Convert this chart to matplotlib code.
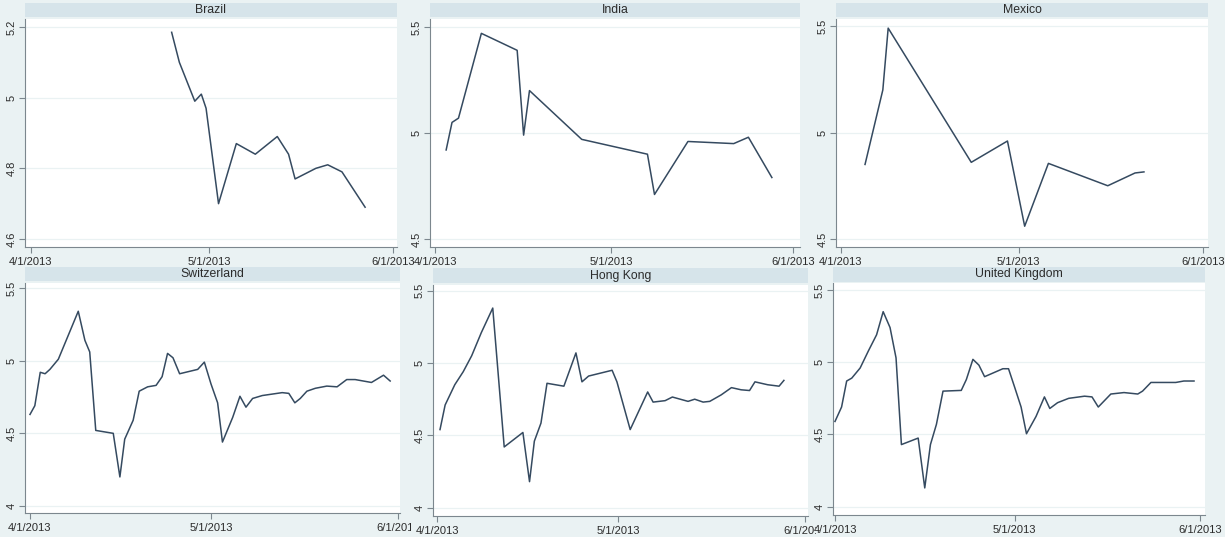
import numpy as np
import matplotlib
matplotlib.use("Agg")
import matplotlib.pyplot as plt
from matplotlib.patches import Rectangle
from matplotlib.transforms import Bbox, TransformedBbox

plt.rcParams["font.family"] = ["Liberation Sans", "DejaVu Sans"]

# ---- data: days since 1 Apr 2013 and yield values ----
brazil_day = [23.7, 25.0, 27.6, 28.7, 29.5, 31.6, 34.6, 37.8, 41.5, 43.4, 44.5, 48.0, 50.0, 52.4, 56.3]
brazil_val = [5.185, 5.10, 4.99, 5.01, 4.97, 4.70, 4.87, 4.84, 4.89, 4.84, 4.77, 4.80, 4.81, 4.79, 4.69]

india_day = [1.9, 2.9, 4.0, 7.9, 14.0, 15.1, 16.1, 25.0, 36.2, 37.4, 43.1, 50.9, 53.4, 57.4]
india_val = [4.92, 5.05, 5.07, 5.47, 5.39, 4.99, 5.20, 4.97, 4.90, 4.71, 4.96, 4.95, 4.98, 4.79]

mexico_day = [4.1, 7.1, 8.0, 22.0, 28.1, 31.0, 35.0, 45.0, 49.6, 51.1]
mexico_val = [4.85, 5.20, 5.49, 4.86, 4.96, 4.56, 4.855, 4.75, 4.81, 4.815]

swiss_day = [0.0, 0.8, 1.7, 2.5, 3.3, 4.7, 6.1, 6.9, 8.0, 9.1, 9.9, 10.9, 13.8, 14.9, 15.7,
             17.1, 18.1, 19.5, 20.9, 21.9, 22.8, 23.7, 24.8, 27.8, 28.9, 30.0, 31.1, 31.9,
             33.6, 34.8, 35.8, 36.9, 38.5, 41.8, 42.9, 43.9, 44.8, 45.9, 47.3, 49.2, 50.9,
             52.5, 53.9, 56.6, 58.6, 59.7]
swiss_val = [4.63, 4.69, 4.92, 4.91, 4.94, 5.01, 5.15, 5.23, 5.34, 5.14, 5.06, 4.52, 4.50, 4.20, 4.46,
             4.59, 4.79, 4.82, 4.83, 4.89, 5.05, 5.02, 4.91, 4.94, 4.99, 4.84, 4.71, 4.44,
             4.61, 4.755, 4.68, 4.74, 4.76, 4.78, 4.775, 4.71, 4.74, 4.79, 4.81, 4.825, 4.82,
             4.87, 4.87, 4.85, 4.90, 4.86]

hk_day = [0.45, 1.3, 2.9, 4.3, 5.7, 7.3, 9.2, 11.1, 14.2, 15.3, 16.1, 17.2, 18.2, 21.0, 23.0,
          24.0, 25.1, 29.0, 29.8, 32.0, 34.9, 35.8, 37.8, 39.0, 41.6, 42.7, 44.1, 45.2, 47.1,
          48.8, 50.4, 51.8, 52.7, 54.8, 56.7, 57.5]
hk_val = [4.54, 4.71, 4.85, 4.94, 5.05, 5.21, 5.38, 4.42, 4.52, 4.18, 4.46, 4.585, 4.86, 4.84, 5.07,
          4.87, 4.91, 4.95, 4.87, 4.54, 4.80, 4.73, 4.74, 4.765, 4.735, 4.75, 4.73, 4.735, 4.78,
          4.83, 4.815, 4.81, 4.87, 4.85, 4.84, 4.88]

uk_day = [0.0, 1.1, 1.95, 2.8, 4.2, 5.6, 6.95, 8.05, 9.2, 10.2, 11.1, 13.9, 15.0, 15.95, 16.95,
          18.05, 21.1, 21.95, 23.05, 24.05, 25.0, 28.05, 29.0, 30.0, 31.1, 32.0, 33.6, 35.0,
          35.9, 37.2, 39.05, 41.7, 42.95, 44.0, 46.1, 48.3, 50.6, 51.4, 52.8, 56.95, 58.3, 60.0]
uk_val = [4.59, 4.69, 4.87, 4.89, 4.96, 5.08, 5.19, 5.35, 5.24, 5.03, 4.43, 4.475, 4.13, 4.43, 4.57,
          4.80, 4.805, 4.88, 5.02, 4.98, 4.90, 4.955, 4.955, 4.83, 4.69, 4.505, 4.625, 4.76,
          4.68, 4.72, 4.75, 4.765, 4.76, 4.69, 4.78, 4.79, 4.78, 4.80, 4.86, 4.86, 4.87, 4.87]

countries = ["Brazil", "India", "Mexico", "Switzerland", "Hong Kong", "United Kingdom"]
series = [(brazil_day, brazil_val), (india_day, india_val), (mexico_day, mexico_val),
          (swiss_day, swiss_val), (hk_day, hk_val), (uk_day, uk_val)]

x_tick_days = [0, 30, 61]
x_tick_labels = ["4/1/2013", "5/1/2013", "6/1/2013"]
y_ticks = [[4.6, 4.8, 5.0, 5.2], [4.5, 5.0, 5.5], [4.5, 5.0, 5.5],
           [4.0, 4.5, 5.0, 5.5], [4.0, 4.5, 5.0, 5.5], [4.0, 4.5, 5.0, 5.5]]
y_tick_labels = [["4.6", "4.8", "5", "5.2"], ["4.5", "5", "5.5"], ["4.5", "5", "5.5"],
                 ["4", "4.5", "5", "5.5"], ["4", "4.5", "5", "5.5"], ["4", "4.5", "5", "5.5"]]

# ---- layout (pixels) ----
W, H = 1225, 537
BG = "#EAF2F3"
BAR = "#D6E4EA"
LINE = "#354a60"
AXIS = "#7C878E"

# plot box (left, top, right, bottom), x pixels of first/last tick,
# y pixels of lowest/highest tick, title bar (top, bottom),
# right edge where the last x label is cut off by the neighbouring panel
layout = [
    ((25, 19, 397, 247), (31, 393), (239, 27), (3, 17), None),
    ((430, 19, 800, 247), (435, 793), (239, 27), (3, 17), None),
    ((836, 19, 1208, 247), (840.7, 1202.7), (239, 26), (3, 17), None),
    ((25, 283, 400, 513), (30, 398), (506, 288), (267, 281), 411),
    ((433, 285, 808, 516), (437.3, 805), (507.7, 290.7), (268, 283), 816),
    ((833, 283, 1205, 515), (835, 1200), (506.7, 290), (267, 282), None),
]


def limits(lo_px, hi_px, p1, v1, p2, v2):
    slope = (v2 - v1) / (p2 - p1)
    return v1 + (lo_px - p1) * slope, v1 + (hi_px - p1) * slope


fig = plt.figure(figsize=(W / 100, H / 100), dpi=100, facecolor=BG)

for i, name in enumerate(countries):
    (x0, y0, x1, y1), (xa, xb), (ya, yb), (t0, t1), cut = layout[i]
    ax = fig.add_axes([x0 / W, 1 - y1 / H, (x1 - x0) / W, (y1 - y0) / H])
    ax.set_facecolor("white")

    xlo, xhi = limits(x0, x1, xa, x_tick_days[0], xb, x_tick_days[-1])
    yt = y_ticks[i]
    ylo, yhi = limits(y1, y0, ya, yt[0], yb, yt[-1])
    ax.set_xlim(xlo, xhi)
    ax.set_ylim(ylo, yhi)

    for v in yt:
        ax.axhline(v, color=BG, lw=0.9, zorder=1)

    d, v = series[i]
    ax.plot(d, v, color=LINE, lw=1.1, zorder=3)

    ax.set_xticks(x_tick_days)
    ax.set_xticklabels(x_tick_labels)
    ax.set_yticks(yt)
    ax.set_yticklabels(y_tick_labels[i], rotation=90, va="center")

    for s in ("top", "right"):
        ax.spines[s].set_visible(False)
    for s in ("left", "bottom"):
        ax.spines[s].set_color(AXIS)
        ax.spines[s].set_linewidth(0.8)
    ax.tick_params(axis="both", colors=AXIS, labelcolor="#2b2b2b", labelsize=8,
                   length=4, width=0.8, direction="out")
    ax.tick_params(axis="x", pad=3)
    ax.tick_params(axis="y", pad=2)

    if cut is not None:
        last = ax.xaxis.get_major_ticks()[-1].label1
        last.set_clip_box(TransformedBbox(Bbox([[0, 0], [cut / W, 1]]), fig.transFigure))
        last.set_clip_on(True)

    # title bar above each panel
    bar = Rectangle((x0 / W, 1 - t1 / H), (x1 - x0) / W, (t1 - t0) / H,
                    transform=fig.transFigure, facecolor=BAR, edgecolor="none")
    fig.patches.append(bar)
    fig.text((x0 + x1) / 2 / W, 1 - (t0 + t1) / 2 / H, name, ha="center", va="center",
             fontsize=8.8, color="#2b2b2b")

fig.savefig("out.png", dpi=100, facecolor=BG)
